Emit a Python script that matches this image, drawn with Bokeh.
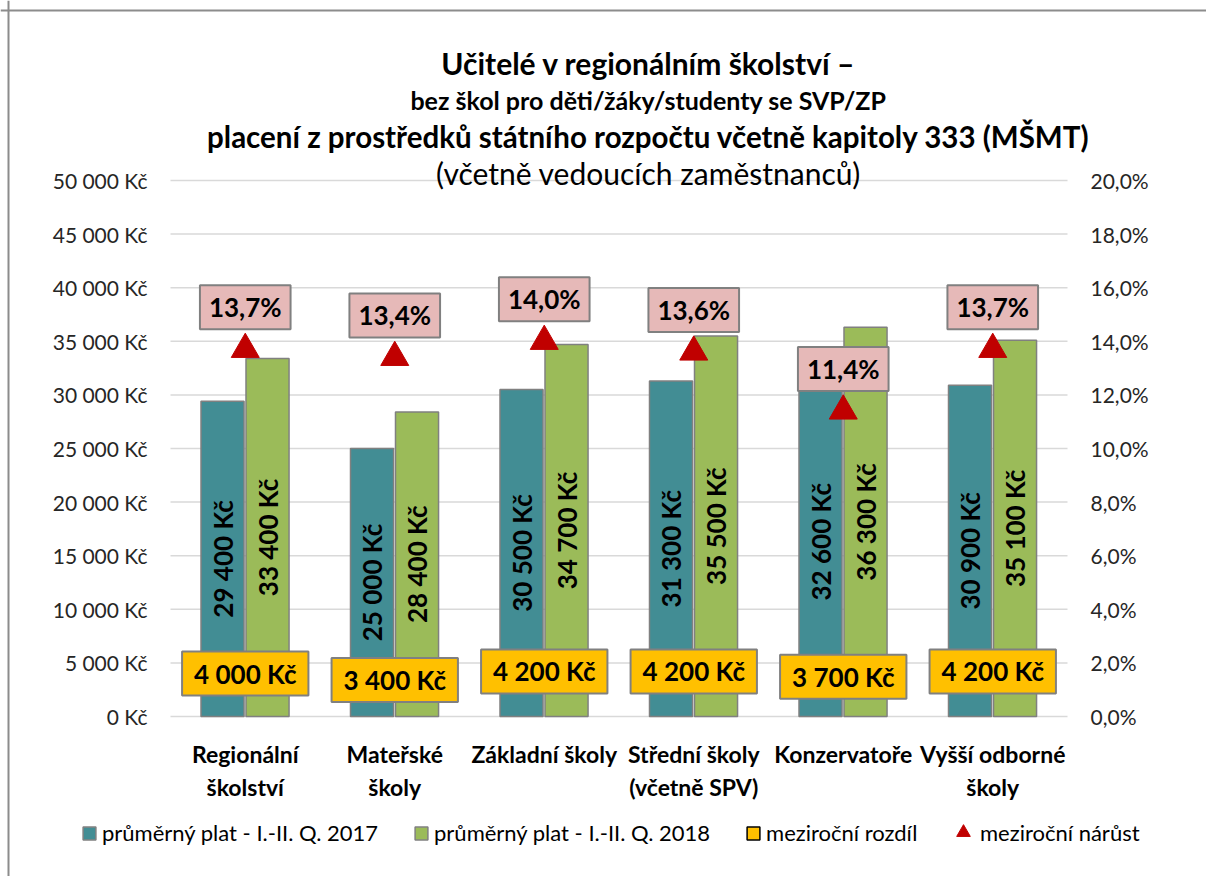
import math
from bokeh.plotting import figure
from bokeh.models import Range1d, Label, Legend, LegendItem, ColumnDataSource, Span
from bokeh.core.properties import value
from bokeh.embed import file_html
from bokeh.resources import INLINE

# ---------------- data ----------------
categories = ["Regionální\nškolství", "Mateřské\nškoly", "Základní školy",
              "Střední školy\n(včetně SPV)", "Konzervatoře", "Vyšší odborné\nškoly"]
plat_2017 = [29400, 25000, 30500, 31300, 32600, 30900]
plat_2018 = [33400, 28400, 34700, 35500, 36300, 35100]
rozdil = [4000, 3400, 4200, 4200, 3700, 4200]
narust = [13.7, 13.4, 14.0, 13.6, 11.4, 13.7]
left_ticks = [0, 5000, 10000, 15000, 20000, 25000, 30000, 35000, 40000, 45000, 50000]
right_ticks = [0, 2, 4, 6, 8, 10, 12, 14, 16, 18, 20]

title_lines = ["Učitelé v regionálním školství –",
               "bez škol pro děti/žáky/studenty se SVP/ZP",
               "placení z prostředků státního rozpočtu včetně kapitoly 333 (MŠMT)",
               "(včetně vedoucích zaměstnanců)"]
series_names = ["průměrný plat - I.-II. Q. 2017", "průměrný plat - I.-II. Q. 2018",
                "meziroční rozdíl", "meziroční nárůst"]

# ---------------- style / layout ----------------
FONT = "Lato"
TEAL = "#428D94"
GREEN = "#9BBB59"
YELLOW = "#FFC000"
PINK = "#E6B9B8"
RED = "#C00000"
EDGE = "#808080"
W, H = 1206, 876
PLOT_L, PLOT_R = 170, 1067      # pixel columns of the plot area
ZERO_PX, TOP_PX = 716, 180      # pixel rows of the first and last tick

n = len(categories)
cat_px = (PLOT_R - PLOT_L) / n
val_per_px = left_ticks[-1] / (ZERO_PX - TOP_PX)
pct_scale = right_ticks[-1] / left_ticks[-1]


def px_x(px):
    return (px - PLOT_L) / cat_px


def px_y(py):
    return (ZERO_PX - py) * val_per_px


def kc(v):
    return f"{v:,}".replace(",", " ") + " Kč"


def pct(v):
    return f"{v:.1f}".replace(".", ",") + "%"


xc = [i + 0.5 for i in range(n)]
x17 = [x - 0.152 for x in xc]
x18 = [x + 0.149 for x in xc]

p = figure(width=W, height=H, x_range=Range1d(px_x(0), px_x(W)),
           y_range=Range1d(px_y(H), px_y(0)),
           x_axis_location=None, y_axis_location=None,
           output_backend="svg", toolbar_location=None,
           min_border=0, min_border_left=0, min_border_right=0,
           min_border_top=0, min_border_bottom=0)
p.extra_y_ranges = {"pct": Range1d(px_y(H) * pct_scale, px_y(0) * pct_scale)}
p.outline_line_color = None
p.xgrid.visible = False
p.ygrid.visible = False
p.background_fill_color = "white"
p.border_fill_color = "white"

# chart border (left and top edges)
p.add_layout(Span(location=px_x(8), dimension="height", line_color="#8C8C8C", line_width=2))
p.add_layout(Span(location=px_y(10), dimension="width", line_color="#8C8C8C", line_width=2))

# gridlines of the value axis
p.segment(x0=[0] * len(left_ticks), x1=[n] * len(left_ticks), y0=left_ticks, y1=left_ticks,
          line_color="#D9D9D9", line_width=1.5)

# value-axis tick labels (left: Kč, right: %)
p.text(x=[px_x(147)] * len(left_ticks), y=left_ticks, text=[kc(t) for t in left_ticks],
       text_align="right", text_baseline="middle", text_font=value(FONT),
       text_font_size="21px", text_color="#262626")
p.text(x=[px_x(1090)] * len(right_ticks), y=right_ticks, y_range_name="pct",
       text=[pct(t) for t in right_ticks], text_align="left", text_baseline="middle",
       text_font=value(FONT), text_font_size="21px", text_color="#262626")

# category labels
p.text(x=xc, y=[px_y(739)] * n, text=categories, text_align="center", text_baseline="top",
       text_font=value(FONT), text_font_style="bold", text_font_size="23px",
       text_color="black", text_line_height=1.2)

# bars
b17 = p.vbar(x=x17, top=plat_2017, width=0.288, fill_color=TEAL, line_color=EDGE, line_width=1.5)
b18 = p.vbar(x=x18, top=plat_2018, width=0.288, fill_color=GREEN, line_color=EDGE, line_width=1.5)

# vertical value labels inside bars
lab_src = ColumnDataSource(dict(
    x=x17 + x18,
    y=[v / 2 for v in plat_2017] + [v / 2 for v in plat_2018],
    t=[kc(v) for v in plat_2017] + [kc(v) for v in plat_2018],
))
p.text(x="x", y="y", text="t", source=lab_src, angle=math.pi / 2,
       text_align="center", text_baseline="middle", text_font=value(FONT),
       text_font_style="bold", text_font_size="26px", text_color="black")

# difference markers (covered by their labels) and growth triangles
sq = p.rect(x=xc, y=rozdil, width=10, height=10, width_units="screen", height_units="screen",
            fill_color=YELLOW, line_color="black", line_width=1.5)
tri = p.scatter(x=xc, y=narust, y_range_name="pct", marker="triangle", size=28,
                fill_color=RED, line_color=RED)

for x, r in zip(xc, rozdil):
    p.add_layout(Label(x=x, y=r, text=kc(r), text_align="center", text_baseline="middle",
                       text_font=FONT, text_font_style="bold", text_font_size="26px",
                       text_color="black", background_fill_color=YELLOW,
                       border_line_color=EDGE, border_line_width=2, padding=(12, 6)))

for x, g in zip(xc, narust):
    p.add_layout(Label(x=x, y=g, y_range_name="pct", y_offset=42, text=pct(g),
                       text_align="center", text_baseline="middle",
                       text_font=FONT, text_font_style="bold", text_font_size="26px",
                       text_color="black", background_fill_color=PINK,
                       border_line_color=EDGE, border_line_width=2, padding=(9, 6)))

# title
title_y = [62, 99, 136, 172]
title_sizes = ["30px", "25px", "29.5px", "30px"]
title_styles = ["bold", "bold", "bold", "normal"]
for txt, ty, fs, st in zip(title_lines, title_y, title_sizes, title_styles):
    p.add_layout(Label(x=648, y=ty, x_units="canvas", y_units="canvas", text=txt,
                       text_align="center", text_baseline="middle", text_font=FONT,
                       text_font_style=st, text_font_size=fs, text_color="black"))

# legend
common = dict(orientation="horizontal", border_line_color=None, background_fill_alpha=0,
              padding=0, margin=0, label_text_font=FONT, label_text_font_size="22px",
              label_text_color="black")
leg_a = Legend(items=[LegendItem(label=series_names[0], renderers=[b17]),
                      LegendItem(label=series_names[1], renderers=[b18]),
                      LegendItem(label=series_names[2], renderers=[sq])],
               location=(81, 30), spacing=35, label_standoff=5, glyph_width=16,
               glyph_height=16, label_height=26, **common)
leg_b = Legend(items=[LegendItem(label=series_names[3], renderers=[tri])],
               location=(946, 27), spacing=0, label_standoff=0, glyph_width=34,
               glyph_height=34, label_height=26, **common)
p.add_layout(leg_a, "center")
p.add_layout(leg_b, "center")

open("out.html", "w").write(file_html(p, INLINE))
